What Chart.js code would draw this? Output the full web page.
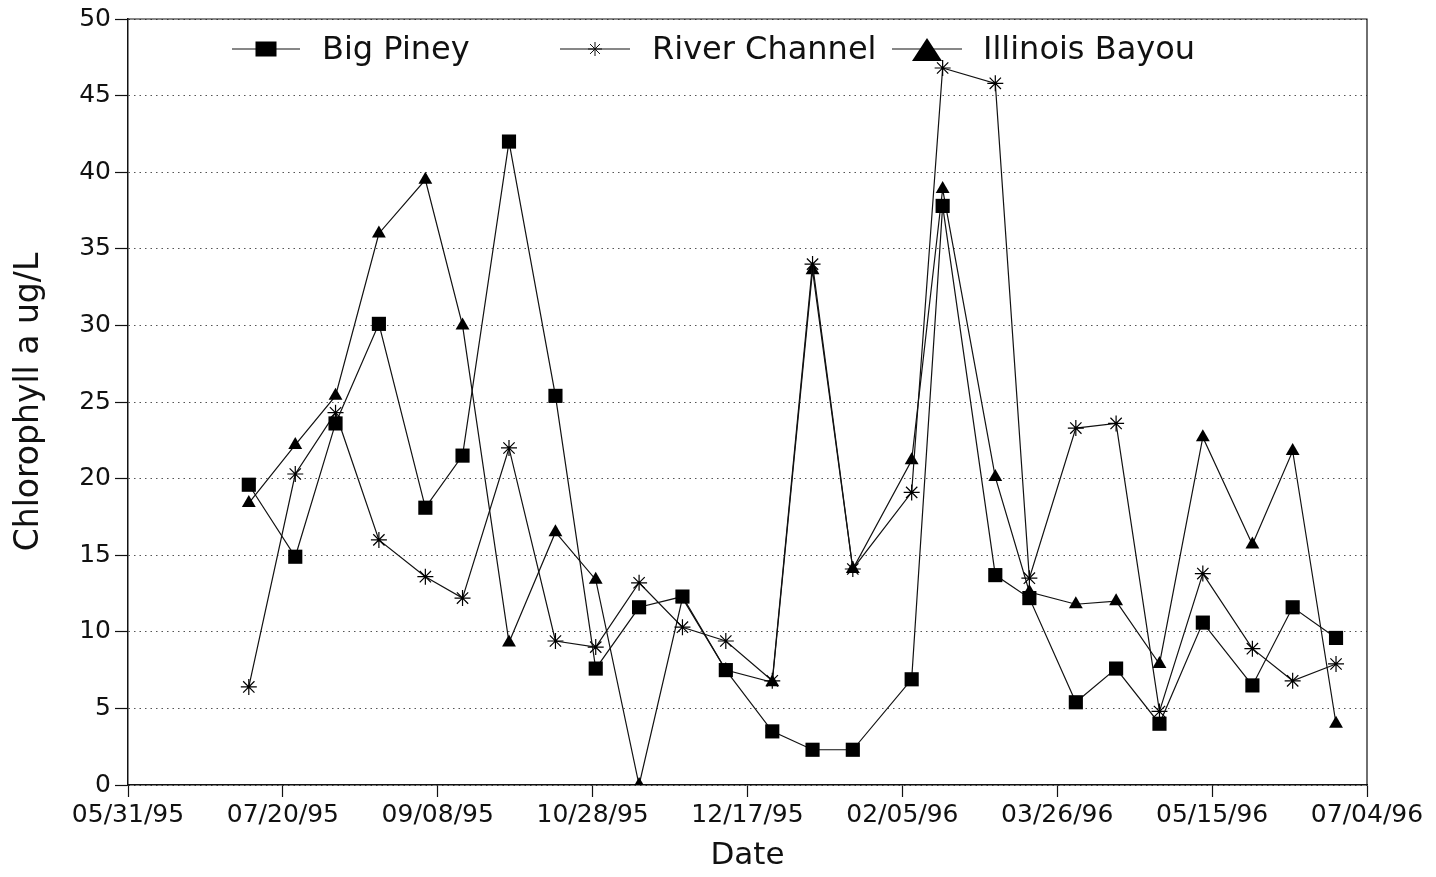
<!DOCTYPE html>
<html>
<head>
<meta charset="utf-8">
<script src="https://cdn.jsdelivr.net/npm/chart.js@4.4.1/dist/chart.umd.min.js"></script>
<style>
  html, body { margin: 0; padding: 0; background: #fff; }
  #chart { display: block; }
</style>
</head>
<body>
<canvas id="chart" width="1436" height="877"></canvas>
<script>
// sampling dates (all three sites sampled on the same day)
const sampleDates = [
  '1995-07-09', '1995-07-24', '1995-08-06', '1995-08-20', '1995-09-04', '1995-09-16',
  '1995-10-01', '1995-10-16', '1995-10-29', '1995-11-12', '1995-11-26', '1995-12-10',
  '1995-12-25', '1996-01-07', '1996-01-20', '1996-02-08', '1996-02-18', '1996-03-06',
  '1996-03-17', '1996-04-01', '1996-04-14', '1996-04-28', '1996-05-12', '1996-05-28',
  '1996-06-10', '1996-06-24'
];

const bigPiney = [19.6, 14.9, 23.6, 30.1, 18.1, 21.5, 42.0, 25.4, 7.6, 11.6, 12.3, 7.5, 3.5,
  2.3, 2.3, 6.9, 37.8, 13.7, 12.2, 5.4, 7.6, 4.0, 10.6, 6.5, 11.6, 9.6];
const riverChannel = [6.4, 20.3, 24.3, 16.0, 13.6, 12.2, 22.0, 9.4, 9.0, 13.2, 10.3, 9.4, 6.8,
  34.0, 14.1, 19.1, 46.8, 45.8, 13.5, 23.3, 23.6, 4.8, 13.8, 8.9, 6.8, 7.9];
const illinoisBayou = [18.4, 22.2, 25.4, 36.0, 39.5, 30.0, 9.3, 16.5, 13.4, 0, 12.2, 7.5, 6.7,
  33.6, 14.1, 21.2, 38.9, 20.1, 12.6, 11.8, 12.0, 7.9, 22.7, 15.7, 21.8, 4.0];

const seriesNames = ['Big Piney', 'River Channel', 'Illinois Bayou'];
const startDate = '1995-05-31';   // first x tick
const dayStep = 50;               // x tick spacing in days
const dayMax = 400;               // 07/04/96

const FONT = 'DejaVu Sans';
const INK = '#111';

function toUTC(s) {
  const [y, m, d] = s.split('-').map(Number);
  return Date.UTC(y, m - 1, d);
}
const t0 = toUTC(startDate);
const dayOf = s => Math.round((toUTC(s) - t0) / 86400000);

function dayLabel(v) {
  const d = new Date(t0 + v * 86400000);
  const mm = String(d.getUTCMonth() + 1).padStart(2, '0');
  const dd = String(d.getUTCDate()).padStart(2, '0');
  const yy = String(d.getUTCFullYear()).slice(2);
  return `${mm}/${dd}/${yy}`;
}

const points = vals => sampleDates.map((s, i) => ({ x: dayOf(s), y: vals[i] }));

// frame on top / right of the plot
const frame = {
  id: 'frame',
  afterDraw(chart) {
    const { ctx, chartArea: a } = chart;
    ctx.save();
    ctx.strokeStyle = INK;
    ctx.lineWidth = 1.2;
    ctx.beginPath();
    ctx.moveTo(a.left, a.top);
    ctx.lineTo(a.right, a.top);
    ctx.lineTo(a.right, a.bottom);
    ctx.stroke();
    ctx.restore();
  }
};

// legend drawn inside the plot, one row along the top
const insideLegend = {
  id: 'insideLegend',
  afterDatasetsDraw(chart) {
    const ctx = chart.ctx;
    const y = 49;
    const items = [
      { x0: 232, x1: 300, text: 322 },
      { x0: 560, x1: 630, text: 652 },
      { x0: 892, x1: 962, text: 983 }
    ];
    ctx.save();
    ctx.strokeStyle = INK;
    ctx.fillStyle = '#000';
    items.forEach((it, i) => {
      const cx = (it.x0 + it.x1) / 2;
      ctx.lineWidth = 1.2;
      ctx.beginPath();
      ctx.moveTo(it.x0, y);
      ctx.lineTo(it.x1, y);
      ctx.stroke();
      if (i === 0) {
        ctx.fillRect(cx - 10.5, y - 7.5, 21, 15);
      } else if (i === 1) {
        ctx.lineWidth = 1;
        ctx.beginPath();
        for (let k = 0; k < 4; k++) {
          const a = k * Math.PI / 4;
          ctx.moveTo(cx - Math.cos(a) * 7, y - Math.sin(a) * 7);
          ctx.lineTo(cx + Math.cos(a) * 7, y + Math.sin(a) * 7);
        }
        ctx.stroke();
      } else {
        ctx.beginPath();
        ctx.moveTo(cx, y - 11);
        ctx.lineTo(cx + 15, y + 12);
        ctx.lineTo(cx - 15, y + 12);
        ctx.closePath();
        ctx.fill();
      }
      ctx.fillStyle = INK;
      ctx.font = `32px "${FONT}"`;
      ctx.textBaseline = 'middle';
      ctx.textAlign = 'left';
      ctx.fillText(chart.data.datasets[i].label, it.text, y + 2);
      ctx.fillStyle = '#000';
    });
    ctx.restore();
  }
};

const lineStyle = {
  borderColor: INK,
  borderWidth: 1.2,
  backgroundColor: '#000',
  pointBackgroundColor: '#000',
  pointBorderColor: '#000',
  tension: 0,
  fill: false
};

new Chart(document.getElementById('chart').getContext('2d'), {
  type: 'line',
  data: {
    datasets: [
      { ...lineStyle, label: seriesNames[0], data: points(bigPiney),
        pointStyle: 'rect', pointRadius: 10, pointBorderWidth: 0 },
      { ...lineStyle, label: seriesNames[1], data: points(riverChannel),
        pointStyle: 'star', pointRadius: 8, pointBorderWidth: 1.2 },
      { ...lineStyle, label: seriesNames[2], data: points(illinoisBayou),
        pointStyle: 'triangle', pointRadius: 8, pointBorderWidth: 0 }
    ]
  },
  options: {
    responsive: false,
    animation: false,
    events: [],
    layout: { padding: { left: 0, right: 69, top: 19, bottom: 0 } },
    plugins: {
      legend: { display: false },
      tooltip: { enabled: false }
    },
    scales: {
      x: {
        type: 'linear',
        position: 'bottom',
        min: 0,
        max: dayMax,
        afterFit: s => { s.height = 92; },
        ticks: {
          stepSize: dayStep,
          autoSkip: false,
          maxRotation: 0,
          padding: 3,
          color: INK,
          font: { family: FONT, size: 25 },
          callback: v => dayLabel(v)
        },
        grid: { drawOnChartArea: false, drawTicks: true, tickLength: 12, tickColor: INK, tickWidth: 1.2 },
        border: { color: INK, width: 1.5 },
        title: {
          display: true,
          text: 'Date',
          color: INK,
          font: { family: FONT, size: 31 },
          padding: { top: 0, bottom: 2 }
        }
      },
      y: {
        min: 0,
        max: 50,
        afterFit: s => { s.width = 128; },
        ticks: {
          stepSize: 5,
          padding: 4,
          color: INK,
          font: { family: FONT, size: 25 }
        },
        grid: { color: '#555', lineWidth: 1, tickLength: 13, tickColor: INK, tickWidth: 1.2, tickBorderDash: [] },
        border: { color: INK, width: 1.5, dash: [1.5, 4] },
        title: {
          display: true,
          text: 'Chlorophyll a ug/L',
          color: INK,
          font: { family: FONT, size: 33 },
          padding: { top: 10, bottom: 0 }
        }
      }
    }
  },
  plugins: [frame, insideLegend]
});
</script>
</body>
</html>
